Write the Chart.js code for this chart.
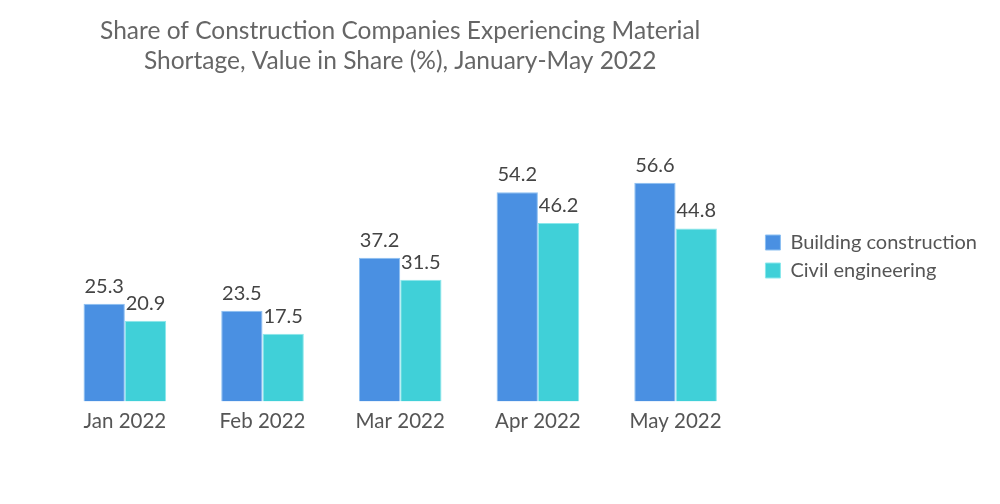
<!DOCTYPE html>
<html>
<head>
<meta charset="utf-8">
<script src="https://cdn.jsdelivr.net/npm/chart.js@4"></script>
<style>
  body { margin: 0; background: #fff; }
  #wrap { width: 1000px; height: 504px; }
</style>
</head>
<body>
<div id="wrap"><canvas id="chart"></canvas></div>
<script>
'use strict'

const months = ['Jan 2022', 'Feb 2022', 'Mar 2022', 'Apr 2022', 'May 2022']
const building = [25.3, 23.5, 37.2, 54.2, 56.6]
const civil = [20.9, 17.5, 31.5, 46.2, 44.8]
const titleLines = ['Share of Construction Companies Experiencing Material',
                    'Shortage, Value in Share (%), January-May 2022']

const FONT = 'Lato, "Open Sans", sans-serif'

// values above the bars
const valueLabels = {
    id: 'valueLabels',
    afterDatasetsDraw(chart) {
        const ctx = chart.ctx
        ctx.save()
        ctx.font = '20px ' + FONT
        ctx.fillStyle = '#444'
        ctx.textAlign = 'center'
        ctx.textBaseline = 'alphabetic'
        chart.data.datasets.forEach((ds, i) => {
            chart.getDatasetMeta(i).data.forEach((bar, j) => {
                ctx.fillText(ds.data[j].toFixed(1), bar.x, bar.y - 11)
            })
        })
        ctx.restore()
    }
}

// title centred over the plot area, not the whole canvas
const plotTitle = {
    id: 'plotTitle',
    afterDraw(chart) {
        const ctx = chart.ctx
        const area = chart.chartArea
        const cx = (area.left + area.right) / 2
        ctx.save()
        ctx.font = '24.5px ' + FONT
        ctx.fillStyle = '#666'
        ctx.textAlign = 'center'
        ctx.textBaseline = 'middle'
        titleLines.forEach((line, i) => ctx.fillText(line, cx, 31 + i * 30))
        ctx.restore()
    }
}

const CHART = document.querySelector('#chart').getContext('2d')

new Chart(CHART, {
    type: 'bar',
    data: {
        labels: months,
        datasets: [{
            label: 'Building construction',
            data: building,
            backgroundColor: '#4a90e2',
            borderColor: '#8cc0f2',
            borderWidth: 1
        }, {
            label: 'Civil engineering',
            data: civil,
            backgroundColor: '#40d0d8',
            borderColor: '#8ae8ec',
            borderWidth: 1
        }]
    },
    options: {
        responsive: true,
        maintainAspectRatio: false,
        animation: false,
        layout: { padding: { left: 56, right: 13, top: 79, bottom: 70 } },
        datasets: { bar: { categoryPercentage: 0.6, barPercentage: 1.0 } },
        plugins: {
            title: { display: false },
            legend: {
                position: 'right',
                labels: {
                    color: '#555',
                    font: { family: FONT, size: 20 },
                    boxWidth: 15,
                    boxHeight: 15,
                    padding: 8
                }
            },
            tooltip: { enabled: false }
        },
        scales: {
            x: {
                grid: { display: false },
                border: { display: false },
                ticks: { color: '#555', font: { family: FONT, size: 20.5 }, padding: 0 }
            },
            y: {
                position: 'right',
                min: 0,
                max: 83.5,
                grid: { display: false },
                border: { display: false },
                ticks: { display: false },
                afterFit(scale) { scale.width = 13 }
            }
        }
    },
    plugins: [valueLabels, plotTitle]
})
</script>
</body>
</html>
